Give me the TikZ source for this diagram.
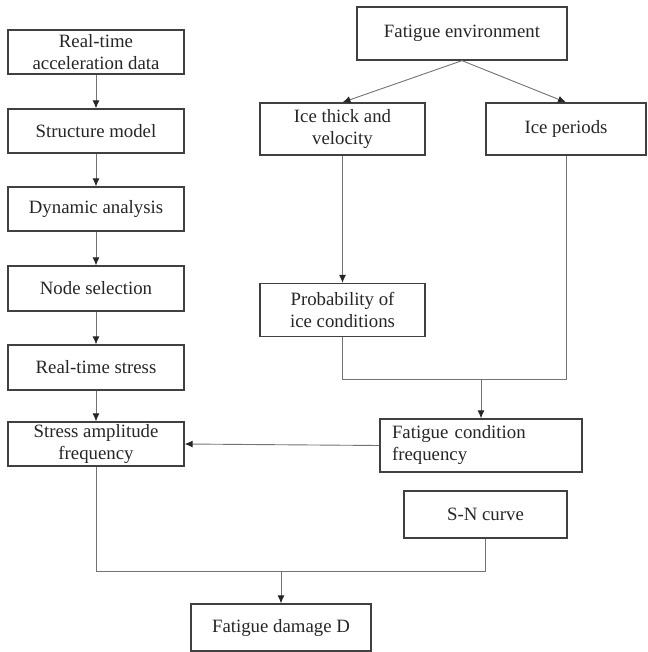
\documentclass[tikz,border=0pt]{standalone}
\usepackage{fontspec}
\setmainfont{Liberation Serif}
\usepackage{tikz}
\usetikzlibrary{positioning,calc,arrows.meta}

\begin{document}
\begin{tikzpicture}
[x=1pt,y=-1pt,>={Latex[length=8pt,width=7pt,color=black!85]},
box/.style = {draw=black!75, line width=1.3pt, text=black!85, align=center, inner sep=2pt, font=\fontsize{18.8}{22}\selectfont},
link/.style = {draw=black!55, line width=0.9pt}]
\useasboundingbox (0,0) rectangle (647,652);
% left column
\node (acc) at (96,52)[box,minimum width=176,minimum height=44] {Real-time\\acceleration data};
\node (sm) at (96,131)[box,minimum width=176,minimum height=44] {Structure model};
\node (dyn) at (96,209)[box,minimum width=176,minimum height=44] {Dynamic analysis};
\node (nsel) at (96,288.5)[box,minimum width=176,minimum height=45] {Node selection};
\node (rts) at (96,367.5)[box,minimum width=176,minimum height=45] {Real-time stress};
\node (saf) at (96,444)[box,minimum width=176,minimum height=44] {Stress amplitude\\frequency};
% right part
\node (fenv) at (462,33.5)[box,minimum width=210,minimum height=53] {Fatigue environment};
\node (ice) at (342.5,129)[box,minimum width=165,minimum height=52] {Ice thick and\\velocity};
\node (iper) at (566,129)[box,minimum width=160,minimum height=52] {Ice periods};
\node (prob) at (342.5,310)[box,minimum width=165,minimum height=53] {Probability of\\ice conditions};
\node (fcf) at (481,445.5)[box,align=left,text width=178,inner xsep=12,minimum height=53] {Fatigue condition\\frequency};
\node (sn) at (485.5,514.5)[box,minimum width=163,minimum height=47] {S-N curve};
\node (fdmg) at (281,627.5)[box,minimum width=180,minimum height=47] {Fatigue damage D};
\coordinate (m1) at (481,379);
\coordinate (m2) at (281,571);
\draw [link,->] (acc) -- (sm);
\draw [link,->] (sm) -- (dyn);
\draw [link,->] (dyn) -- (nsel);
\draw [link,->] (nsel) -- (rts);
\draw [link,->] (rts) -- (saf);
\draw [link,->] (fenv.south) -- (ice.north);
\draw [link,->] (fenv.south) -- (iper.north);
\draw [link,->] (ice) -- (prob);
\draw [link] (prob.south) |- (m1);
\draw [link] (iper.south) |- (m1);
\draw [link,->] (m1) -- (fcf.north);
\draw [link,->] (fcf.west) -- (saf.east);
\draw [link] (saf.south) |- (m2);
\draw [link] (sn.south) |- (m2);
\draw [link,->] (m2) -- (fdmg.north);
\end{tikzpicture}
\end{document}
